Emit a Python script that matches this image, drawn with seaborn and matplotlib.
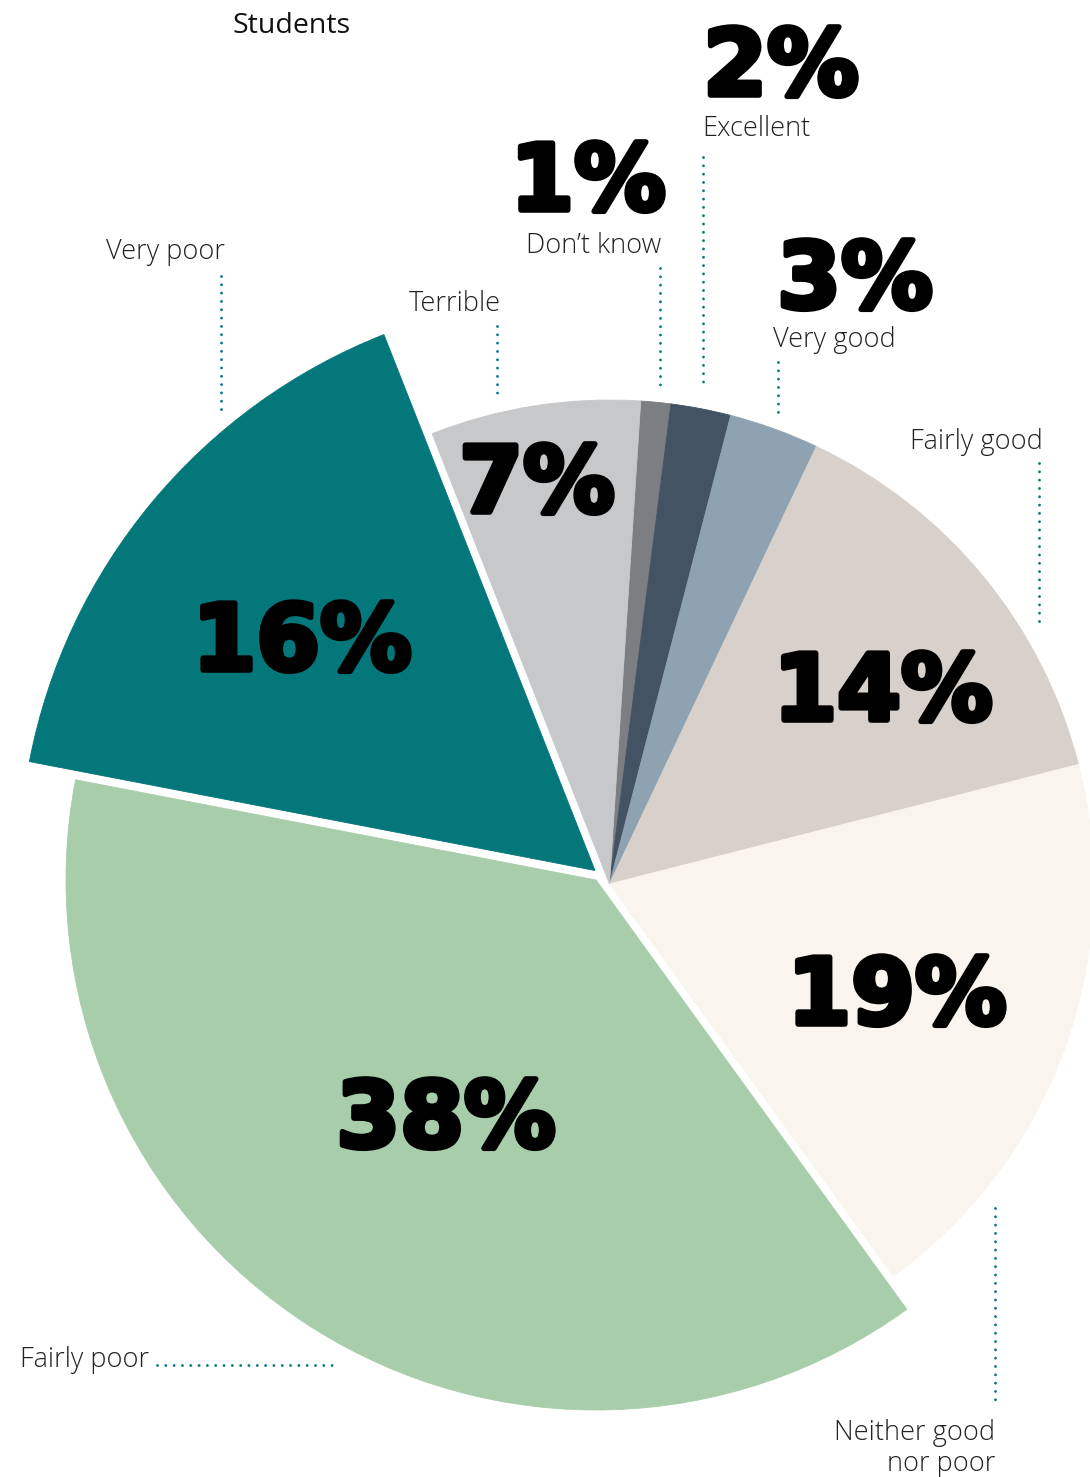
import numpy as np
import matplotlib
matplotlib.use("Agg")
import matplotlib.pyplot as plt
import matplotlib.patheffects as pe
import seaborn as sns

# ---- data -------------------------------------------------------------
title = "Students"
categories = ["Don’t know", "Excellent", "Very good", "Fairly good",
              "Neither good\nnor poor", "Fairly poor", "Very poor", "Terrible"]
shares = [1, 2, 3, 14, 19, 38, 16, 7]
slice_colors = ["#7D7E82", "#435364", "#8FA2B1", "#D8D1CB",
                "#F9F5EE", "#A8CDAA", "#03777A", "#C7C8CA"]

# ---- layout (pixel coordinates, y measured from the top) --------------
W, H = 1090, 1477
BASE = (609.5, 884)
radii = [484, 484, 484, 484, 484, 530, 576, 484]
pivots = [BASE] * 5 + [(596, 880), (595, 870.5), BASE]
start_angle = 86.3

# percentage labels: (x centre, baseline)
value_pos = [(588, 210), (781, 95), (855, 308), (883, 720),
             (897, 1024), (446, 1147), (302, 670), (537, 512)]
# category labels: (x, baseline of last line, horizontal alignment)
label_pos = [(594, 253, "center"), (756, 136, "center"), (773, 347, "left"),
             (976, 449, "center"), (995, 1471, "right"), (20, 1367, "left"),
             (166, 259, "center"), (455, 311, "center")]
# dotted leaders: (x0, y0, x1, y1)
leaders = [(660, 268, 660, 385), (703, 157, 703, 388), (778, 362, 778, 413),
           (1039, 463, 1039, 622), (995, 1208, 995, 1405), (157, 1365, 332, 1365),
           (221, 276, 221, 412), (497, 326, 497, 398)]

TEXT = "#222222"
LEADER = "#0B7A7F"

sns.set_theme(style="white")
plt.rcParams["font.family"] = ["Open Sans", "DejaVu Sans"]


def flip(x, y):
    return x, H - y


fig = plt.figure(figsize=(W / 100, H / 100), dpi=100)
ax = fig.add_axes([0, 0, 1, 1])

# each slice gets its own radius / pivot; draw the full pie and keep one wedge
for i in range(len(shares)):
    wedges, _ = ax.pie(shares, colors=slice_colors, radius=radii[i],
                       center=flip(*pivots[i]), startangle=start_angle,
                       counterclock=False, normalize=True,
                       wedgeprops=dict(linewidth=0.6))
    for j, w in enumerate(wedges):
        w.set_edgecolor(w.get_facecolor())
        w.set_visible(j == i)

ax.set_xlim(0, W)
ax.set_ylim(0, H)
ax.set_aspect("equal")
ax.axis("off")

# leaders (round-capped zero-length dashes give dots)
for x0, y0, x1, y1 in leaders:
    ax.plot([x0, x1], [H - y0, H - y1], color=LEADER, lw=2.1,
            linestyle=(0, (0.001, 2.85)), dash_capstyle="round")

# big percentage figures
for v, (x, yb) in zip(shares, value_pos):
    ax.text(x, H - yb, f"{v}%", ha="center", va="baseline",
            fontsize=66, fontweight="bold", family=["DejaVu Sans"], color="black",
            path_effects=[pe.withStroke(linewidth=4, foreground="black")])

# category names
for name, (x, yb, ha) in zip(categories, label_pos):
    ax.text(x, H - yb, name, ha=ha, va="baseline", multialignment="right",
            fontsize=19.5, fontweight="light", color=TEXT, linespacing=1.15)

ax.text(232, H - 33, title, ha="left", va="baseline", fontsize=20.5,
        fontweight="medium", color="#111111")

fig.savefig("out.png", dpi=100)
